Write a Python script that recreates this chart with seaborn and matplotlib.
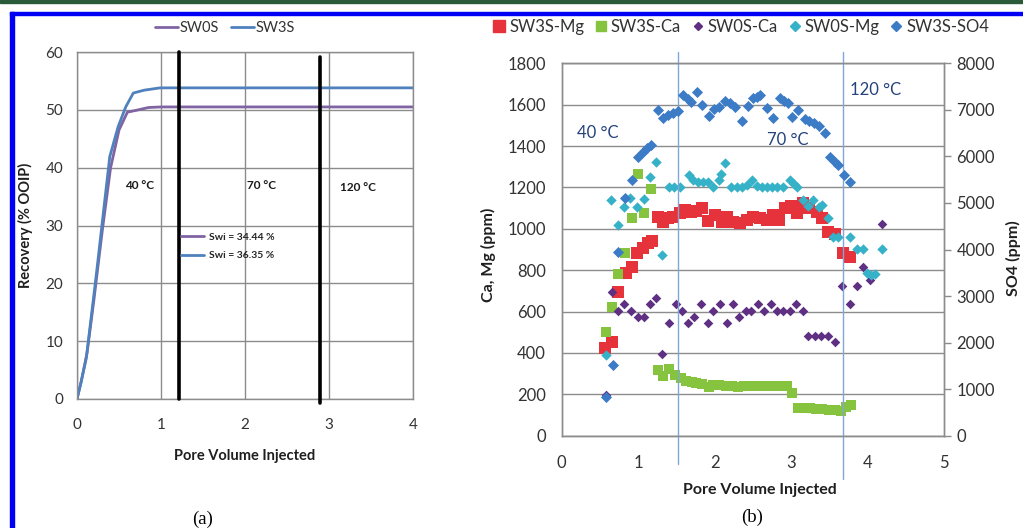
import matplotlib
matplotlib.use("Agg")
import matplotlib.pyplot as plt
from matplotlib.lines import Line2D
from matplotlib.patches import Rectangle
import seaborn as sns

# ---------------- panel (a): recovery curves ----------------
pv_sw0s = [0, 0.05, 0.12, 0.2, 0.3, 0.4, 0.5, 0.6, 0.7, 0.85, 1.0, 4.0]
rec_sw0s = [0, 3, 8, 17, 29, 40, 46.5, 49.6, 49.9, 50.4, 50.5, 50.5]
pv_sw3s = [0, 0.05, 0.11, 0.23, 0.39, 0.49, 0.58, 0.67, 0.8, 0.99, 4.0]
rec_sw3s = [0, 3, 7, 21.5, 41.9, 47.1, 50.5, 52.9, 53.4, 53.8, 53.8]
a_xticks = [0, 1, 2, 3, 4]
a_yticks = [0, 10, 20, 30, 40, 50, 60]
a_temp_lines = [1.21, 2.89]
a_temp_x = [0.75, 2.2, 3.35]
a_temp_y = [37, 37, 36.5]
temp_labels = ["40 °C", "70 °C", "120 °C"]
swi_labels = ["Swi = 34.44 %", "Swi = 36.35 %"]

# ---------------- panel (b): ion concentrations ----------------
mg3_x = [0.566, 0.66, 0.74, 0.84, 0.915, 0.98, 1.067, 1.133, 1.177, 1.255, 1.33, 1.39, 1.46,
         1.547, 1.613, 1.69, 1.76, 1.83, 1.917, 2.005, 2.09, 2.158, 2.244, 2.33, 2.42, 2.506,
         2.59, 2.68, 2.76, 2.846, 2.92, 3.0, 3.08, 3.16, 3.24, 3.335, 3.4, 3.487, 3.575, 3.683, 3.77]
mg3_y = [422, 454, 696, 785, 817, 882, 906, 930, 940, 1058, 1034, 1054, 1058,
         1078, 1091, 1083, 1088, 1102, 1038, 1067, 1034, 1058, 1034, 1027, 1043, 1058,
         1050, 1043, 1067, 1043, 1099, 1110, 1078, 1123, 1099, 1083, 1051, 986, 975, 882, 865]

ca3_x = [0.575, 0.662, 0.732, 0.83, 0.915, 0.994, 1.077, 1.168, 1.265, 1.33, 1.403, 1.48, 1.56,
         1.63, 1.7, 1.76, 1.83, 1.92, 1.98, 2.06, 2.15, 2.23, 2.31, 2.39, 2.47, 2.55, 2.63, 2.71,
         2.79, 2.87, 2.95, 3.01, 3.09, 3.17, 3.25, 3.33, 3.41, 3.49, 3.57, 3.65, 3.72, 3.78]
ca3_y = [503, 620, 782, 882, 1051, 1264, 1078, 1191, 318, 289, 321, 293, 277,
         265, 258, 254, 250, 236, 244, 244, 240, 238, 236, 238, 240, 242, 240, 238,
         242, 240, 242, 208, 132, 134, 132, 130, 128, 126, 124, 120, 138, 148]

ca0_x = [0.575, 0.654, 0.732, 0.82, 0.906, 0.994, 1.07, 1.155, 1.23, 1.316, 1.403, 1.49, 1.57,
         1.656, 1.734, 1.818, 1.91, 1.983, 2.07, 2.158, 2.236, 2.32, 2.41, 2.48, 2.57, 2.65,
         2.74, 2.82, 2.9, 2.986, 3.07, 3.16, 3.225, 3.31, 3.39, 3.487, 3.575, 3.66, 3.77, 3.86,
         3.945, 4.03, 4.185]
ca0_y = [198, 696, 604, 637, 604, 575, 575, 637, 664, 395, 546, 637, 604,
         546, 575, 637, 546, 604, 637, 546, 637, 575, 604, 604, 637, 604,
         637, 604, 604, 604, 637, 604, 482, 482, 482, 482, 454, 724, 637, 724,
         814, 753, 1023]

mg0_x = [0.575, 0.645, 0.74, 0.82, 0.893, 0.98, 1.077, 1.155, 1.229, 1.316, 1.403, 1.473, 1.547,
         1.665, 1.72, 1.787, 1.852, 1.917, 1.983, 2.057, 2.08, 2.136, 2.22, 2.29, 2.354, 2.42,
         2.485, 2.55, 2.616, 2.68, 2.746, 2.81, 2.9, 2.986, 3.038, 3.08, 3.16, 3.225, 3.29, 3.36,
         3.41, 3.487, 3.55, 3.62, 3.77, 3.86, 3.94, 3.99, 4.04, 4.1, 4.185]
mg0_y = [390, 1140, 1020, 1107, 1147, 1107, 1143, 1252, 1324, 873, 1200, 1200, 1200,
         1260, 1236, 1228, 1228, 1228, 1200, 1236, 1265, 1320, 1200, 1200, 1200, 1212,
         1236, 1207, 1200, 1200, 1200, 1200, 1200, 1236, 1216, 1200, 1139, 1110, 1139, 1107,
         1115, 1051, 959, 959, 959, 902, 902, 785, 775, 782, 902]

so4_x = [0.58, 0.667, 0.74, 0.83, 0.915, 0.994, 1.067, 1.11, 1.168, 1.255, 1.33, 1.394, 1.46,
         1.517, 1.59, 1.656, 1.69, 1.765, 1.83, 1.926, 1.996, 2.057, 2.136, 2.2, 2.266, 2.354,
         2.44, 2.506, 2.55, 2.6, 2.68, 2.76, 2.855, 2.907, 2.955, 3.008, 3.095, 3.18, 3.24, 3.3,
         3.365, 3.444, 3.51, 3.574, 3.62, 3.69, 3.77]
so4_y = [830, 1519, 3939, 5099, 5492, 5980, 6100, 6173, 6244, 6996, 6818, 6889, 6925,
         6981, 7318, 7226, 7175, 7390, 7104, 6867, 7011, 7067, 7196, 7140, 7054, 6766,
         7082, 7247, 7282, 7318, 7032, 6818, 7247, 7196, 7140, 6852, 6996, 6796, 6766, 6723,
         6652, 6495, 5980, 5886, 5815, 5600, 5456]

b_xticks = [0, 1, 2, 3, 4, 5]
b_yticks = [0, 200, 400, 600, 800, 1000, 1200, 1400, 1600, 1800]
b_y2ticks = [0, 1000, 2000, 3000, 4000, 5000, 6000, 7000, 8000]
b_temp_lines = [1.525, 3.68]
b_temp_x = [0.476, 2.96, 4.11]
b_temp_y = [1463, 1429, 1670]

# ---------------- style ----------------
sns.set_theme(style="white")
plt.rcParams['font.family'] = ['Lato', 'DejaVu Sans']

C_SW0S = "#8064A2"
C_SW3S = "#4F81BD"
C_MG3 = "#E5323B"
C_CA3 = "#86C440"
C_CA0 = "#5E2F82"
C_MG0 = "#35B2C8"
C_SO4 = "#3C7CC7"
GRID = "#8C8C8C"
TICK = "#333333"

W, H = 1023, 528
fig = plt.figure(figsize=(W / 100, H / 100), dpi=100)
fig.patch.set_facecolor("white")


def box(x0, y0, x1, y1):
    return [x0 / W, 1 - y1 / H, (x1 - x0) / W, (y1 - y0) / H]


# frame decorations of the screenshot
fig.patches.append(Rectangle((0, 1 - 3 / H), 1, 3 / H, transform=fig.transFigure,
                             color="#2B5A3A", zorder=0))
fig.patches.append(Rectangle((10 / W, 0), 4 / W, 1 - 12 / H, transform=fig.transFigure,
                             color="#0000F5", zorder=0))
fig.patches.append(Rectangle((10 / W, 1 - 15 / H), 1, 3 / H, transform=fig.transFigure,
                             color="#0000F5", zorder=0))

# ---------------- panel (a) ----------------
axA = fig.add_axes(box(77, 52, 413, 399))
sns.lineplot(x=pv_sw0s, y=rec_sw0s, ax=axA, color=C_SW0S, lw=2, legend=False)
sns.lineplot(x=pv_sw3s, y=rec_sw3s, ax=axA, color=C_SW3S, lw=2, legend=False)
axA.set_xlim(0, 4)
axA.set_ylim(0, 60)
axA.set_xticks(a_xticks)
axA.set_yticks(a_yticks)
axA.grid(True, color=GRID, lw=1)
axA.set_axisbelow(True)
for s in axA.spines.values():
    s.set_color(GRID)
    s.set_linewidth(1)
axA.tick_params(axis="both", length=0, labelsize=11, colors=TICK)
axA.tick_params(axis="y", pad=10)
axA.tick_params(axis="x", pad=14)
axA.set_xlabel("")
axA.set_ylabel("")
axA.plot([a_temp_lines[0]] * 2, [0, 1], transform=axA.get_xaxis_transform(),
         color="black", lw=2.6, clip_on=False, zorder=3)
axA.plot([a_temp_lines[1]] * 2, [-0.012, 0.986], transform=axA.get_xaxis_transform(),
         color="black", lw=2.6, clip_on=False, zorder=3)
for tx, ty, tl in zip(a_temp_x, a_temp_y, temp_labels):
    axA.text(tx, ty, tl, fontsize=8.5, fontweight="bold", color="#1a1a1a",
             ha="center", va="center")
inner = [Line2D([], [], color=C_SW0S, lw=2), Line2D([], [], color=C_SW3S, lw=2)]
axA.legend(inner, swi_labels, loc="upper left", bbox_to_anchor=(0.31, 0.48),
           frameon=False, prop={"size": 7.5, "weight": "bold"}, handlelength=2.2,
           handletextpad=0.5, labelspacing=0.9, borderpad=0, borderaxespad=0,
           labelcolor="#262626")
fig.legend([Line2D([], [], color=C_SW0S, lw=2), Line2D([], [], color=C_SW3S, lw=2)],
           ["SW0S", "SW3S"], loc="center", bbox_to_anchor=(225 / W, 1 - 28 / H),
           ncol=2, frameon=False, fontsize=10.5, handlelength=1.6, handletextpad=0.1,
           columnspacing=0.8, labelcolor=TICK)
fig.text(25 / W, 1 - 225 / H, "Recovery (% OOIP)", rotation=90, ha="center", va="center",
         fontsize=10.5, fontweight="bold", color="#1f1f1f")
fig.text(245 / W, 1 - 456 / H, "Pore Volume Injected", ha="center", va="center",
         fontsize=10.5, fontweight="bold", color="#1f1f1f")
fig.text(203 / W, 1 - 519 / H, "(a)", ha="center", va="center", fontsize=13.5,
         family=["Liberation Serif", "DejaVu Serif"], color="black")

# ---------------- panel (b) ----------------
axB = fig.add_axes(box(561.7, 63.3, 944, 435.7))
axB2 = axB.twinx()
sns.scatterplot(x=mg3_x, y=mg3_y, ax=axB, marker="s", s=64, color=C_MG3, linewidth=0, zorder=3)
sns.scatterplot(x=ca3_x, y=ca3_y, ax=axB, marker="s", s=54, color=C_CA3, linewidth=0, zorder=3)
sns.scatterplot(x=ca0_x, y=ca0_y, ax=axB, marker="D", s=24, color=C_CA0, linewidth=0, zorder=3)
sns.scatterplot(x=mg0_x, y=mg0_y, ax=axB, marker="D", s=28, color=C_MG0, linewidth=0, zorder=3)
sns.scatterplot(x=so4_x, y=so4_y, ax=axB2, marker="D", s=32, color=C_SO4, linewidth=0, zorder=3)
axB.set_xlim(0, 5)
axB.set_ylim(0, 1800)
axB2.set_ylim(0, 8000)
axB.set_xticks(b_xticks)
axB.set_yticks(b_yticks)
axB2.set_yticks(b_y2ticks)
axB.grid(True, axis="y", color=GRID, lw=1)
axB.grid(False, axis="x")
axB2.grid(False)
axB.set_axisbelow(True)
for a in (axB, axB2):
    for s in a.spines.values():
        s.set_color(GRID)
        s.set_linewidth(1)
    a.set_xlabel("")
    a.set_ylabel("")
axB.tick_params(axis="both", length=0, labelsize=12, colors=TICK)
axB.tick_params(axis="y", pad=11.5)
axB.tick_params(axis="x", pad=14)
axB2.tick_params(axis="y", length=5, width=1, color=GRID, labelsize=12, labelcolor=TICK,
                 pad=4, direction="out")
for lx, yb in zip(b_temp_lines, [-0.075, -0.115]):
    axB.plot([lx, lx], [yb, 1.03], transform=axB.get_xaxis_transform(),
             color="#7FA6D6", lw=1, clip_on=False, zorder=4)
for tx, ty, tl in zip(b_temp_x, b_temp_y, temp_labels):
    axB.text(tx, ty, tl, fontsize=12, color="#25427C", ha="center", va="center")

hb = [Line2D([], [], marker="s", ls="", color=C_MG3, markersize=8),
      Line2D([], [], marker="s", ls="", color=C_CA3, markersize=7),
      Line2D([], [], marker="D", ls="", color=C_CA0, markersize=4.5),
      Line2D([], [], marker="D", ls="", color=C_MG0, markersize=5),
      Line2D([], [], marker="D", ls="", color=C_SO4, markersize=5)]
fig.legend(hb, ["SW3S-Mg", "SW3S-Ca", "SW0S-Ca", "SW0S-Mg", "SW3S-SO4"], loc="center",
           bbox_to_anchor=(741 / W, 1 - 27 / H), ncol=5, frameon=False, fontsize=12,
           handlelength=0.8, handletextpad=0.2, columnspacing=0.6, labelcolor=TICK)
fig.text(488 / W, 1 - 255 / H, "Ca, Mg (ppm)", rotation=90, ha="center", va="center",
         fontsize=11.5, fontweight="bold", color="#1f1f1f")
fig.text(1013 / W, 1 - 258 / H, "SO4 (ppm)", rotation=90, ha="center", va="center",
         fontsize=11.5, fontweight="bold", color="#1f1f1f")
fig.text(760 / W, 1 - 490 / H, "Pore Volume Injected", ha="center", va="center",
         fontsize=11.5, fontweight="bold", color="#1f1f1f")
fig.text(752 / W, 1 - 517 / H, "(b)", ha="center", va="center", fontsize=13.5,
         family=["Liberation Serif", "DejaVu Serif"], color="black")

fig.savefig("out.png", dpi=100, facecolor="white")
